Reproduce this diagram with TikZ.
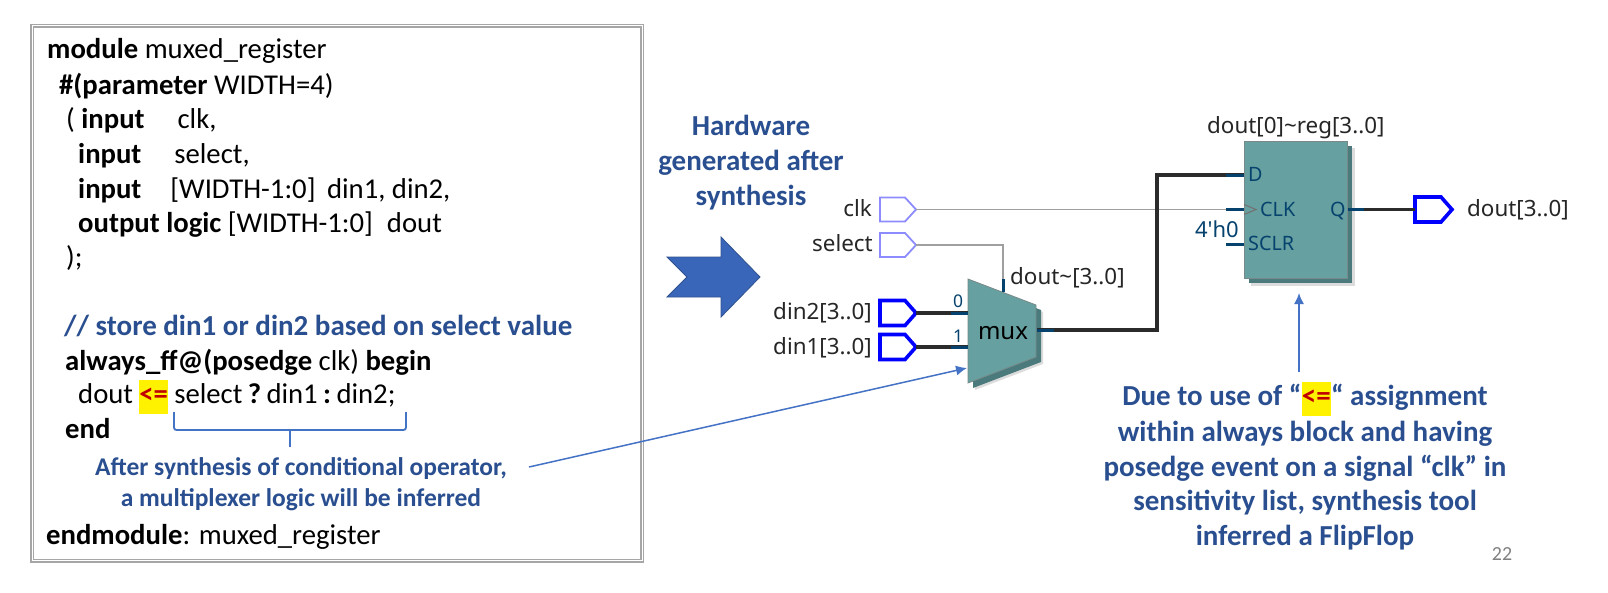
\documentclass[tikz,border=0pt]{standalone}
\usepackage{fontspec}
\setmainfont{Carlito}
\newfontfamily\rtl{Noto Sans}
\usetikzlibrary{arrows.meta}
\definecolor{slideblue}{HTML}{2A4F90}
\definecolor{linkblue}{HTML}{4472C4}
\definecolor{blockblue}{HTML}{3A66BA}
\definecolor{blockedge}{HTML}{2F528F}
\definecolor{teal1}{HTML}{66A0A0}
\definecolor{teal2}{HTML}{4A7A7C}
\definecolor{portblue}{HTML}{06426E}
\definecolor{wireblack}{HTML}{2B2B2B}
\definecolor{redop}{HTML}{C00000}
\newcommand{\kw}[1]{\textbf{#1}}
\newcommand{\hl}{{\setlength{\fboxsep}{0pt}\colorbox{yellow}{\rule[-10.5pt]{0pt}{34pt}\hspace{.3pt}\textcolor{redop}{\textbf{<=}}\hspace{.3pt}}}}
\newcommand{\tightsp}{\hspace{5.4pt}}
\tikzset{
 code/.style={anchor=base west,inner sep=0pt,font=\fontsize{28.7}{32}\selectfont,text=black},
 note/.style={anchor=base,inner sep=0pt,font=\fontsize{25.5}{30}\selectfont\bfseries,text=slideblue},
 big/.style={anchor=base,inner sep=0pt,font=\fontsize{29}{34}\selectfont\bfseries,text=slideblue},
 rtltext/.style={inner sep=0pt,font=\rtl\fontsize{22.4}{26}\selectfont,text=black!85},
 porttext/.style={inner sep=0pt,font=\rtl\fontsize{19.8}{24}\selectfont,text=portblue},
 portstub/.style={draw=portblue,line width=3pt},
 heavy/.style={draw=wireblack,line width=3.4pt},
 thin wire/.style={draw=gray!75,line width=1.5pt},
 bus pin/.style={draw=blue,line width=3.6pt,fill=white,line join=miter},
 bit pin/.style={draw=blue!45,line width=1.8pt,fill=white,line join=miter},
 callout/.style={draw=linkblue,line width=1.5pt,-{Latex[length=11pt,width=10pt]}},
}
% \pinshape{name}{x left}{y mid}{half height}{style}
\newcommand{\pinshape}[5]{%
 \coordinate (#1) at (#2+36,#3);
 \draw[#5] (#2,#3-#4) -- (#2+25,#3-#4) -- (#2+36,#3) -- (#2+25,#3+#4) -- (#2,#3+#4) -- cycle;}
\begin{document}
\begin{tikzpicture}[x=1pt,y=-1pt]
\useasboundingbox (0,0) rectangle (1608,592);
\fill[white] (0,0) rectangle (1608,592);
% code frame
\node[draw=gray!70,double=white,double distance=1pt,line width=1.4pt,minimum width=610pt,minimum height=535pt,inner sep=0pt,anchor=north west] (frame) at (31.5,25) {};
\node[code] (l1) at (47,58) {\kw{module} muxed\_register};
\node[code] (l2) at (59,94) {\kw{\#(parameter} WIDTH=4)};
\node[code] (l3) at (66,128) {( \kw{input}\hspace{33pt}clk,};
\node[code] (l4) at (78,163) {\kw{input}\hspace{33pt}select,};
\node[code] (l5) at (78,198) {\kw{input}\hspace{29pt}[WIDTH-1:0]\hspace{11.5pt}din1, din2,};
\node[code] (l6) at (78,232.5) {\kw{output logic} [WIDTH-1:0]\hspace{14pt}dout};
\node[code] (l7) at (66,266.5) {);};
\node[code,text=slideblue,font=\fontsize{29}{32}\selectfont\bfseries] (l8) at (64,335) {// store din1 or din2 based on select value};
\node[code] (l9) at (65,370) {\kw{always\_ff@(posedge} clk) \kw{begin}};
\node[code] (l10) at (78,403.5) {dout\hspace{6pt}\hl\hspace{6pt}select\tightsp\kw{?}\tightsp din1\tightsp\kw{:}\tightsp din2;};
\node[code] (l11) at (65,438) {\kw{end}};
\node[note] (n1) at (301,475) {After synthesis of conditional operator,};
\node[note] (n2) at (301,506) {a multiplexer logic will be inferred};
\node[code] (l12) at (46,544) {\kw{endmodule}: muxed\_register};
% brace under the conditional expression
\coordinate (brL) at (174,412);
\coordinate (brR) at (406,412);
\coordinate (brM) at (290,447);
\draw[draw=linkblue,line width=1.8pt,rounded corners=2.5pt] (brL) -- (174,430) -- (406,430) -- (brR);
\draw[draw=linkblue,line width=1.8pt] (290,430) -- (brM);
% block arrow
\draw[draw=blockedge,line width=.8pt,fill=blockblue] (667,257) -- (721,257) -- (721,237) -- (760,277) -- (721,317) -- (721,297) -- (667,297) -- (687,277) -- cycle;
\node[big] (h1) at (751,135) {Hardware};
\node[big] (h2) at (751,170.5) {generated after};
\node[big] (h3) at (751,205) {synthesis};
% mux block
\fill[gray!45,opacity=.6] (975,286) -- (1043,312) -- (1043,364) -- (975,390) -- cycle;
\fill[teal2] (973,284) -- (1041,310) -- (1041,362) -- (973,388) -- cycle;
\draw[draw=gray!70!teal1,line width=.8pt,fill=teal1] (968,279) -- (1036,305) -- (1036,357) -- (968,383) -- cycle;
\node[inner sep=0pt,anchor=base,font=\rtl\fontsize{24}{28}\selectfont,text=black] (mux) at (1003,339) {mux};
\coordinate (mIn0) at (968,313);
\coordinate (mIn1) at (968,347);
\coordinate (mSel) at (1003,292);
\coordinate (mOut) at (1037,330);
% flip-flop block
\fill[gray!45,opacity=.6] (1251,148) rectangle (1355,286);
\fill[teal2] (1249,146) rectangle (1352,283);
\node[draw=gray!70!teal1,line width=.8pt,fill=teal1,minimum width=103pt,minimum height=137pt,inner sep=0pt,anchor=north west] (ff) at (1244,141) {};
\coordinate (ffD) at (ff.west|-0,175);
\coordinate (ffClk) at (ff.west|-0,209.5);
\coordinate (ffClr) at (ff.west|-0,244);
\coordinate (ffQ) at (ff.east|-0,209.5);
% pins
\pinshape{pClk}{880}{209.5}{12}{bit pin}
\pinshape{pSel}{880}{245}{12}{bit pin}
\pinshape{pD2}{880}{313}{12.5}{bus pin}
\pinshape{pD1}{880}{347}{12.5}{bus pin}
\coordinate (pOut) at (1415,209.5);
\draw[bus pin] (pOut) -- (1415,197) -- (1441,197) -- (1452,209.5) -- (1441,222) -- (1415,222) -- cycle;
% wires
\draw[thin wire] (pClk) -- (ffClk);
\draw[thin wire] (pSel) -| (mSel);
\draw[heavy] (pD2) -- (mIn0);
\draw[heavy] (pD1) -- (mIn1);
\draw[heavy] (mOut) -- (1157,330) -- (1157,175) -- (ffD);
\draw[heavy] (ffQ) -- (pOut);
\draw[portstub] (951,313) -- (mIn0);
\draw[portstub] (951,347) -- (mIn1);
\draw[portstub] (1003,279) -- (mSel);
\draw[portstub] (mOut) -- (1054,330);
\draw[portstub] (1226,175) -- (ffD);
\draw[portstub] (1226,209.5) -- (ffClk);
\draw[portstub] (1226,244) -- (ffClr);
\draw[portstub] (ffQ) -- (1364,209.5);
\draw[draw=black!55,line width=1.1pt] (1244,204.5) -- (1256,209.5) -- (1244,214.5);
% rtl labels
\node[rtltext,anchor=base east] (tClk) at (872,216) {clk};
\node[rtltext,anchor=base east] (tSel) at (873,251) {select};
\node[rtltext,anchor=base east] (tD2) at (872,319) {din2[3..0]};
\node[rtltext,anchor=base east] (tD1) at (872,354) {din1[3..0]};
\node[rtltext,anchor=base west] (tMux) at (1010,284) {dout\textasciitilde[3..0]};
\node[rtltext,anchor=base west] (tReg) at (1207,133) {dout[0]\textasciitilde reg[3..0]};
\node[rtltext,anchor=base west] (tOut) at (1467,216) {dout[3..0]};
\node[porttext,anchor=base,font=\rtl\fontsize{17.5}{20}\selectfont] (t0) at (958,307) {0};
\node[porttext,anchor=base,font=\rtl\fontsize{17.5}{20}\selectfont] (t1) at (958,342) {1};
\node[porttext,anchor=base west] (tD) at (1248,181) {D};
\node[porttext,anchor=base west] (tC) at (1260,216) {CLK};
\node[porttext,anchor=base west] (tQ) at (1330,216) {Q};
\node[porttext,anchor=base west] (tS) at (1248,250) {SCLR};
\node[porttext,anchor=base east,font=\rtl\fontsize{22}{26}\selectfont] (t4h) at (1239,237) {4'h0};
% right note
\node[big] (r1) at (1305,405.5) {Due to use of “\hl“ assignment};
\node[big] (r2) at (1305,441) {within always block and having};
\node[big] (r3) at (1305,476) {posedge event on a signal “clk” in};
\node[big] (r4) at (1305,510) {sensitivity list, synthesis tool};
\node[big] (r5) at (1305,545) {inferred a FlipFlop};
\node[anchor=base,inner sep=0pt,font=\fontsize{20}{24}\selectfont,text=gray] (pg) at (1502,560) {22};
% callouts
\coordinate (cA) at (529,467);
\coordinate (cB) at (967,368);
\coordinate (cC) at (1299,372);
\coordinate (cD) at (1299,293);
\draw[callout] (cA) -- (cB);
\draw[callout] (cC) -- (cD);
\end{tikzpicture}
\end{document}
